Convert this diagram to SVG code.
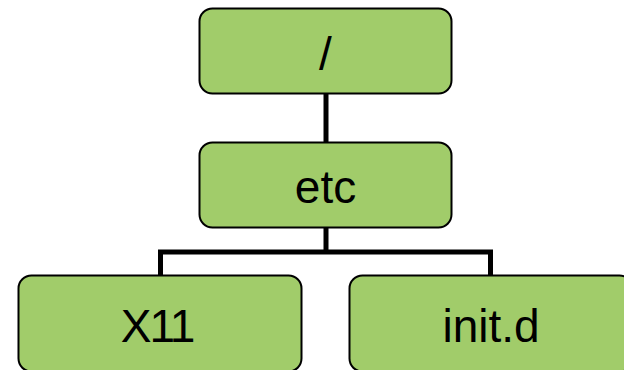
<svg xmlns="http://www.w3.org/2000/svg" width="624" height="370" viewBox="0 0 624 370">
<style>
.node rect{fill:#a1cc6a;stroke:#000;stroke-width:2}
.node text{font-family:"Liberation Sans",Arial,sans-serif;font-size:46px;fill:#000;text-anchor:middle}
.conn{fill:none;stroke:#000;stroke-width:5;stroke-linejoin:miter}
</style>
<rect width="624" height="370" fill="#fff"/>
<g id="connectors">
<line class="conn" x1="326" y1="93" x2="326" y2="143"/>
<path class="conn" d="M326 228 V252 M160.5 275 V252 H490.5 V275"/>
</g>
<g id="node-root" class="node">
<rect x="199.5" y="8.5" width="252" height="85" rx="13"/>
<text x="325.5" y="70">/</text>
</g>
<g id="node-etc" class="node">
<rect x="199.5" y="142.5" width="252" height="85" rx="13"/>
<text x="325.5" y="202.5">etc</text>
</g>
<g id="node-x11" class="node">
<rect x="18.5" y="275.5" width="283" height="96" rx="13"/>
<text x="157" y="341.5" letter-spacing="-2">X11</text>
</g>
<g id="node-initd" class="node">
<rect x="349.5" y="275.5" width="283" height="96" rx="13"/>
<text x="491" y="341.5">init.d</text>
</g>
</svg>
